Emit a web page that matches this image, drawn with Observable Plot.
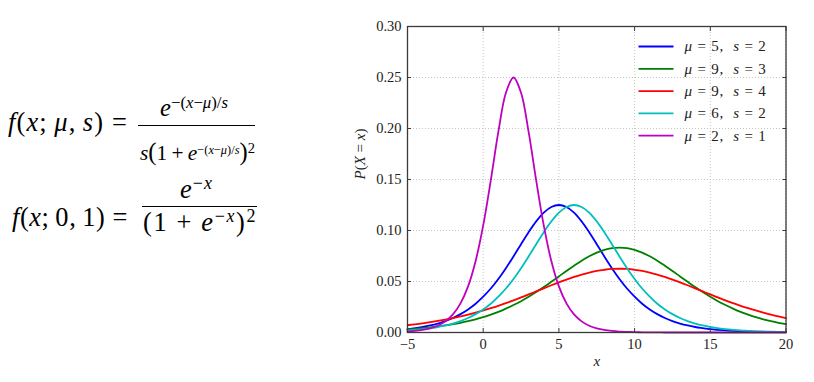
<!DOCTYPE html>
<html><head><meta charset="utf-8">
<script src="https://cdn.jsdelivr.net/npm/d3@7"></script>
<script src="https://cdn.jsdelivr.net/npm/@observablehq/plot@0.6"></script>
<style>
html,body{margin:0;padding:0;background:#fff;}
#wrap{position:relative;width:814px;height:382px;overflow:hidden;background:#fff;}
#chart{position:absolute;left:0;top:0;}
.m{position:absolute;left:0;top:0;white-space:nowrap;font-family:"Liberation Serif",serif;font-size:24px;line-height:1;color:#000;}
.m i{font-style:italic;}
.m sup{font-size:0.68em;vertical-align:baseline;position:relative;top:-0.5em;line-height:1;}
.m sup.sm{font-size:0.58em;letter-spacing:0;}
.m .big{font-size:1.15em;line-height:1;}
.bl{display:inline-block;width:0;height:0;vertical-align:baseline;}
.bar{position:absolute;height:1.3px;background:#000;}
</style></head>
<body><div id="wrap"><div id="chart"></div></div>
<script>
// ---- data ----
const xs = [-5,-4.5,-4,-3.5,-3,-2.5,-2,-1.5,-1,-0.5,0,0.5,1,1.5,2,2.5,3,3.5,4,4.5,5,5.5,6,6.5,7,7.5,8,8.5,9,9.5,10,10.5,11,11.5,12,12.5,13,13.5,14,14.5,15,15.5,16,16.5,17,17.5,18,18.5,19,19.5,20];
const labels = ["μ = 5,  s = 2", "μ = 9,  s = 3", "μ = 9,  s = 4", "μ = 6,  s = 2", "μ = 2,  s = 1"];
const colors = ["#0000ff", "#008000", "#ff0000", "#00bfbf", "#bf00bf"];
const yMu5S2 = [0.0033,0.0043,0.0054,0.0069,0.0088,0.0112,0.0142,0.0180,0.0226,0.0282,0.0351,0.0431,0.0525,0.0631,0.0746,0.0866,0.0983,0.1089,0.1175,0.1231,0.1250,0.1231,0.1175,0.1089,0.0983,0.0866,0.0746,0.0631,0.0525,0.0431,0.0351,0.0282,0.0226,0.0180,0.0142,0.0112,0.0088,0.0069,0.0054,0.0043,0.0033,0.0026,0.0020,0.0016,0.0012,0.0010,0.0008,0.0006,0.0005,0.0004,0.0003];
const yMu9S3 = [0.0031,0.0036,0.0043,0.0050,0.0059,0.0069,0.0081,0.0095,0.0111,0.0129,0.0151,0.0175,0.0202,0.0234,0.0269,0.0307,0.0350,0.0396,0.0445,0.0497,0.0550,0.0604,0.0655,0.0704,0.0747,0.0783,0.0811,0.0828,0.0833,0.0828,0.0811,0.0783,0.0747,0.0704,0.0655,0.0604,0.0550,0.0497,0.0445,0.0396,0.0350,0.0307,0.0269,0.0234,0.0202,0.0175,0.0151,0.0129,0.0111,0.0095,0.0081];
const yMu9S4 = [0.0071,0.0080,0.0090,0.0101,0.0113,0.0126,0.0141,0.0157,0.0175,0.0195,0.0216,0.0238,0.0262,0.0288,0.0315,0.0344,0.0373,0.0403,0.0433,0.0463,0.0492,0.0519,0.0545,0.0568,0.0588,0.0604,0.0615,0.0623,0.0625,0.0623,0.0615,0.0604,0.0588,0.0568,0.0545,0.0519,0.0492,0.0463,0.0433,0.0403,0.0373,0.0344,0.0315,0.0288,0.0262,0.0238,0.0216,0.0195,0.0175,0.0157,0.0141];
const yMu6S2 = [0.0020,0.0026,0.0033,0.0043,0.0054,0.0069,0.0088,0.0112,0.0142,0.0180,0.0226,0.0282,0.0351,0.0431,0.0525,0.0631,0.0746,0.0866,0.0983,0.1089,0.1175,0.1231,0.1250,0.1231,0.1175,0.1089,0.0983,0.0866,0.0746,0.0631,0.0525,0.0431,0.0351,0.0282,0.0226,0.0180,0.0142,0.0112,0.0088,0.0069,0.0054,0.0043,0.0033,0.0026,0.0020,0.0016,0.0012,0.0010,0.0008,0.0006,0.0005];
const yMu2S1 = [0.0009,0.0015,0.0025,0.0041,0.0066,0.0109,0.0177,0.0285,0.0452,0.0701,0.1050,0.1491,0.1966,0.2350,0.2500,0.2350,0.1966,0.1491,0.1050,0.0701,0.0452,0.0285,0.0177,0.0109,0.0066,0.0041,0.0025,0.0015,0.0009,0.0006,0.0003,0.0002,0.0001,0.0001,0,0,0,0,0,0,0,0,0,0,0,0,0,0,0,0,0];
const xTicks = [-5, 0, 5, 10, 15, 20];
const yTicks = [0, 0.05, 0.10, 0.15, 0.20, 0.25, 0.30];
const xLabel = "x";
const yLabel = "P(X = x)";

// ---- build table ----
const seriesValues = [yMu5S2, yMu9S3, yMu9S4, yMu6S2, yMu2S1];
const rows = seriesValues.flatMap((ys, k) => xs.map((x, i) => ({x, y: ys[i], series: labels[k]})));

const lineSymbol = {draw(ctx) { ctx.moveTo(-17.5, 0); ctx.lineTo(17.5, 0); }};
const legendMarks = labels.flatMap((lab, i) => [
  Plot.dot([lab], {frameAnchor: "top-left", dx: 248.5, dy: 20 + i * 22.3, symbol: lineSymbol, r: 1, fill: "none", stroke: colors[i], strokeWidth: 1.8}),
  Plot.text([lab], {frameAnchor: "top-left", dx: 277, dy: 20 + i * 22.3, text: d => d, textAnchor: "start", lineAnchor: "middle", fontSize: 15})
]);

const chart = Plot.plot({
  width: 814, height: 382,
  marginLeft: 407, marginRight: 28.5, marginTop: 26, marginBottom: 50,
  style: {fontFamily: "'Liberation Serif', serif", fontSize: "14.5px", color: "#222", background: "transparent", overflow: "visible"},
  x: {domain: [-5, 20]},
  y: {domain: [0, 0.3]},
  color: {domain: labels, range: colors},
  marks: [
    Plot.gridX({ticks: xTicks, stroke: "#b8b8b8", strokeOpacity: 1, strokeWidth: 0.8, strokeDasharray: "1,2"}),
    Plot.gridY({ticks: yTicks, stroke: "#b8b8b8", strokeOpacity: 1, strokeWidth: 0.8, strokeDasharray: "1,2"}),
    Plot.line(rows, {x: "x", y: "y", z: "series", stroke: "series", strokeWidth: 1.8, curve: "catmull-rom"}),
    Plot.frame({stroke: "#3a3a3a", strokeWidth: 1.3}),
    Plot.axisX({ticks: xTicks, anchor: "bottom", tickSize: -4, tickPadding: 10, label: null, stroke: "#3a3a3a"}),
    Plot.axisX({ticks: xTicks, anchor: "top", tickSize: -4, tickFormat: () => "", label: null, stroke: "#3a3a3a"}),
    Plot.axisY({ticks: yTicks, anchor: "left", tickSize: -4, tickPadding: 10, tickFormat: d3.format(".2f"), label: null, stroke: "#3a3a3a"}),
    Plot.axisY({ticks: yTicks, anchor: "right", tickSize: -4, tickFormat: () => "", label: null, stroke: "#3a3a3a"}),
    Plot.text([xLabel], {frameAnchor: "bottom", dy: 33, text: d => d, fontSize: 15}),
    Plot.text([yLabel], {frameAnchor: "left", dx: -47, rotate: -90, text: d => d, fontSize: 15}),
    ...legendMarks
  ]
});
document.getElementById("chart").appendChild(chart);

// math-style text: italic letters
const richSet = new Set([...labels, xLabel, yLabel]);
const legendSet = new Set(labels);
chart.querySelectorAll("text").forEach(el => {
  const s = el.textContent;
  if (!richSet.has(s)) return;
  el.textContent = "";
  el.setAttribute("xml:space", "preserve");
  el.style.whiteSpace = "pre";
  if (legendSet.has(s)) el.style.letterSpacing = "0.8px";
  for (const ch of s) {
    const t = document.createElementNS("http://www.w3.org/2000/svg", "tspan");
    t.textContent = ch;
    if (/[A-Za-zμ]/.test(ch)) t.setAttribute("font-style", "italic");
    el.appendChild(t);
  }
});

// ---- formulas on the left ----
const wrap = document.getElementById("wrap");
function place(html, left, width, base) {
  const el = document.createElement("div");
  el.className = "m";
  el.innerHTML = html + '<span class="bl"></span>';
  wrap.appendChild(el);
  const w = el.getBoundingClientRect().width;
  const k = Math.min(width / w, 1.1);
  el.style.fontSize = (24 * k).toFixed(2) + "px";
  const w2 = el.getBoundingClientRect().width;
  if (w2 < width) el.style.letterSpacing = ((width - w2) / el.textContent.length).toFixed(2) + "px";
  const r = el.getBoundingClientRect();
  const b = el.querySelector(".bl").getBoundingClientRect().bottom - r.top;
  el.style.left = left + "px";
  el.style.top = (base - b) + "px";
}
function bar(left, width, top) {
  const el = document.createElement("div");
  el.className = "bar";
  el.style.left = left + "px"; el.style.width = width + "px"; el.style.top = top + "px";
  wrap.appendChild(el);
}
const expo = '<sup>−(<i>x</i>−<i>μ</i>)/<i>s</i></sup>';
const expoSm = '<sup class="sm">−(<i>x</i>−<i>μ</i>)/<i>s</i></sup>';
place('<i>f</i>(<i>x</i>;&#8201;<i>μ</i>,&#8201;<i>s</i>)&#8197;=', 8, 120, 131);
bar(138, 117, 125);
place('<i>e</i>' + expo, 160, 68, 116);
place('<i>s</i><span class="big">(</span>1&#8201;+&#8201;<i>e</i>' + expoSm + '<span class="big">)</span><sup>2</sup>', 140, 115, 160);
place('<i>f</i>(<i>x</i>;&#8201;0,&#8201;1)&#8197;=', 12, 116, 226);
bar(142, 115, 206);
place('<i>e</i><sup>−<i>x</i></sup>', 180, 33, 198);
place('(1&#8197;+&#8197;<i>e</i><sup>−<i>x</i></sup>)<sup>2</sup>', 143, 114, 231);
</script>
</body></html>
